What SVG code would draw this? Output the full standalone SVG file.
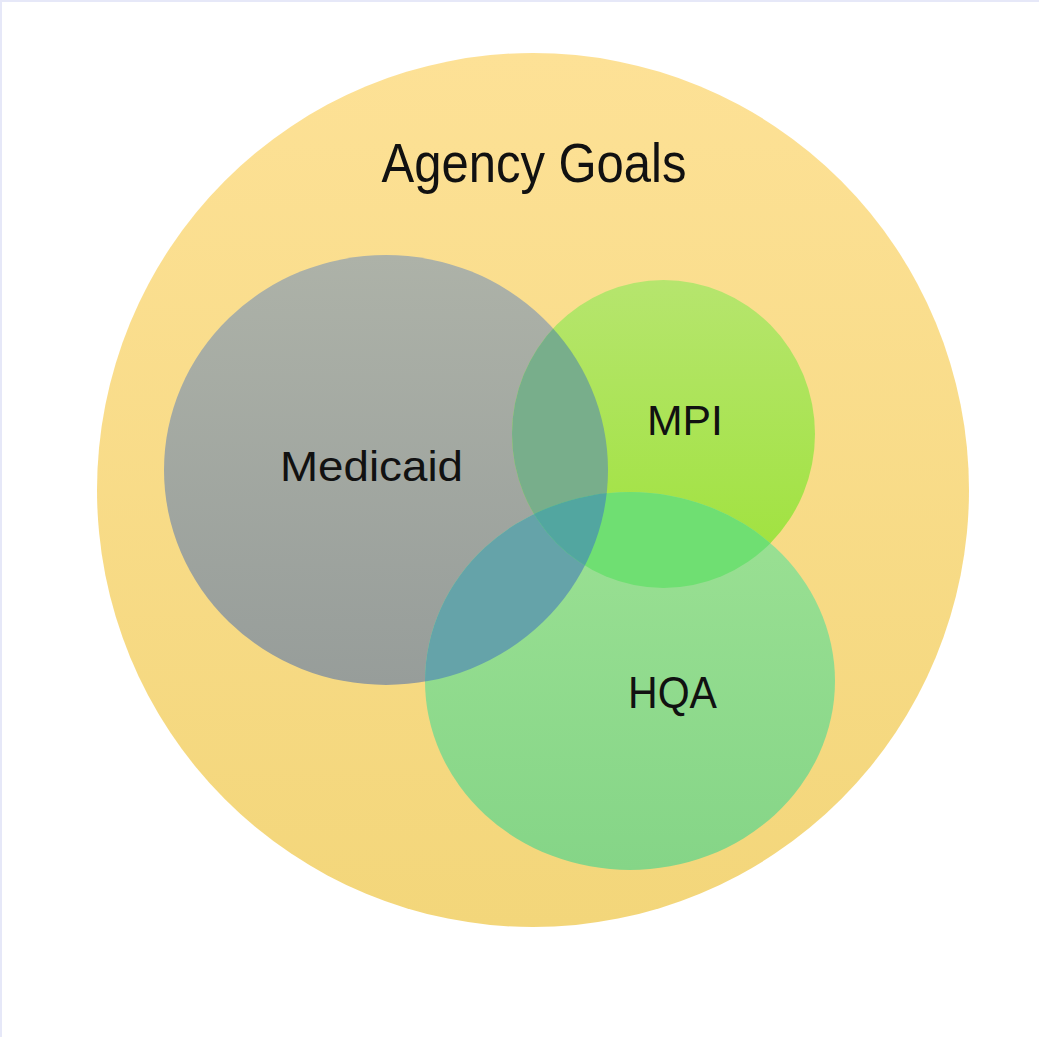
<svg xmlns="http://www.w3.org/2000/svg" width="1039" height="1037" viewBox="0 0 1039 1037">
<defs>
<style>
.lbl{font-family:"Liberation Sans",Arial,sans-serif;fill:#111;}
</style>
<linearGradient id="gY" x1="0" y1="0" x2="0" y2="1"><stop offset="0" stop-color="#fde196"/><stop offset="1" stop-color="#f3d67a"/></linearGradient>
<linearGradient id="gM" x1="0" y1="0" x2="0" y2="1"><stop offset="0" stop-color="#adb2a8"/><stop offset="1" stop-color="#979d9a"/></linearGradient>
<linearGradient id="gP" x1="0" y1="0" x2="0" y2="1"><stop offset="0" stop-color="#b6e56e"/><stop offset="1" stop-color="#9ee23a"/></linearGradient>
<linearGradient id="gH" x1="0" y1="0" x2="0" y2="1"><stop offset="0" stop-color="#9ce194"/><stop offset="1" stop-color="#85d587"/></linearGradient>
<clipPath id="cMed"><ellipse cx="386" cy="470" rx="222" ry="215"/></clipPath>
<clipPath id="cMpi"><ellipse cx="663.5" cy="434" rx="151.5" ry="154"/></clipPath>
</defs>
<rect x="0" y="0" width="1039" height="1037" fill="#ffffff"/>
<rect x="0" y="0" width="1039" height="2" fill="#e6e8f8"/>
<rect x="0" y="0" width="2" height="1037" fill="#e6e8f8"/>
<g id="agency-goals">
<ellipse cx="533" cy="490" rx="436" ry="437" fill="url(#gY)"/>
<text class="lbl" x="534" y="182" font-size="56" text-anchor="middle" textLength="305" lengthAdjust="spacingAndGlyphs">Agency Goals</text>
</g>
<g id="medicaid">
<ellipse cx="386" cy="470" rx="222" ry="215" fill="url(#gM)"/>
</g>
<g id="mpi">
<ellipse cx="663.5" cy="434" rx="151.5" ry="154" fill="url(#gP)"/>
</g>
<g id="hqa">
<ellipse cx="630" cy="681" rx="205" ry="189" fill="url(#gH)"/>
</g>
<g id="overlaps">
<ellipse cx="663.5" cy="434" rx="151.5" ry="154" fill="#78ae8b" clip-path="url(#cMed)"/>
<ellipse cx="630" cy="681" rx="205" ry="189" fill="#65a3a9" clip-path="url(#cMed)"/>
<ellipse cx="630" cy="681" rx="205" ry="189" fill="#6fdf72" clip-path="url(#cMpi)"/>
<g clip-path="url(#cMpi)">
<ellipse cx="630" cy="681" rx="205" ry="189" fill="#52a6a0" clip-path="url(#cMed)"/>
</g>
</g>
<g id="labels">
<text class="lbl" x="280" y="481" font-size="43" textLength="183" lengthAdjust="spacingAndGlyphs">Medicaid</text>
<text class="lbl" x="647" y="435" font-size="42" textLength="76" lengthAdjust="spacingAndGlyphs">MPI</text>
<text class="lbl" x="628" y="708" font-size="44" textLength="89" lengthAdjust="spacingAndGlyphs">HQA</text>
</g>
</svg>
